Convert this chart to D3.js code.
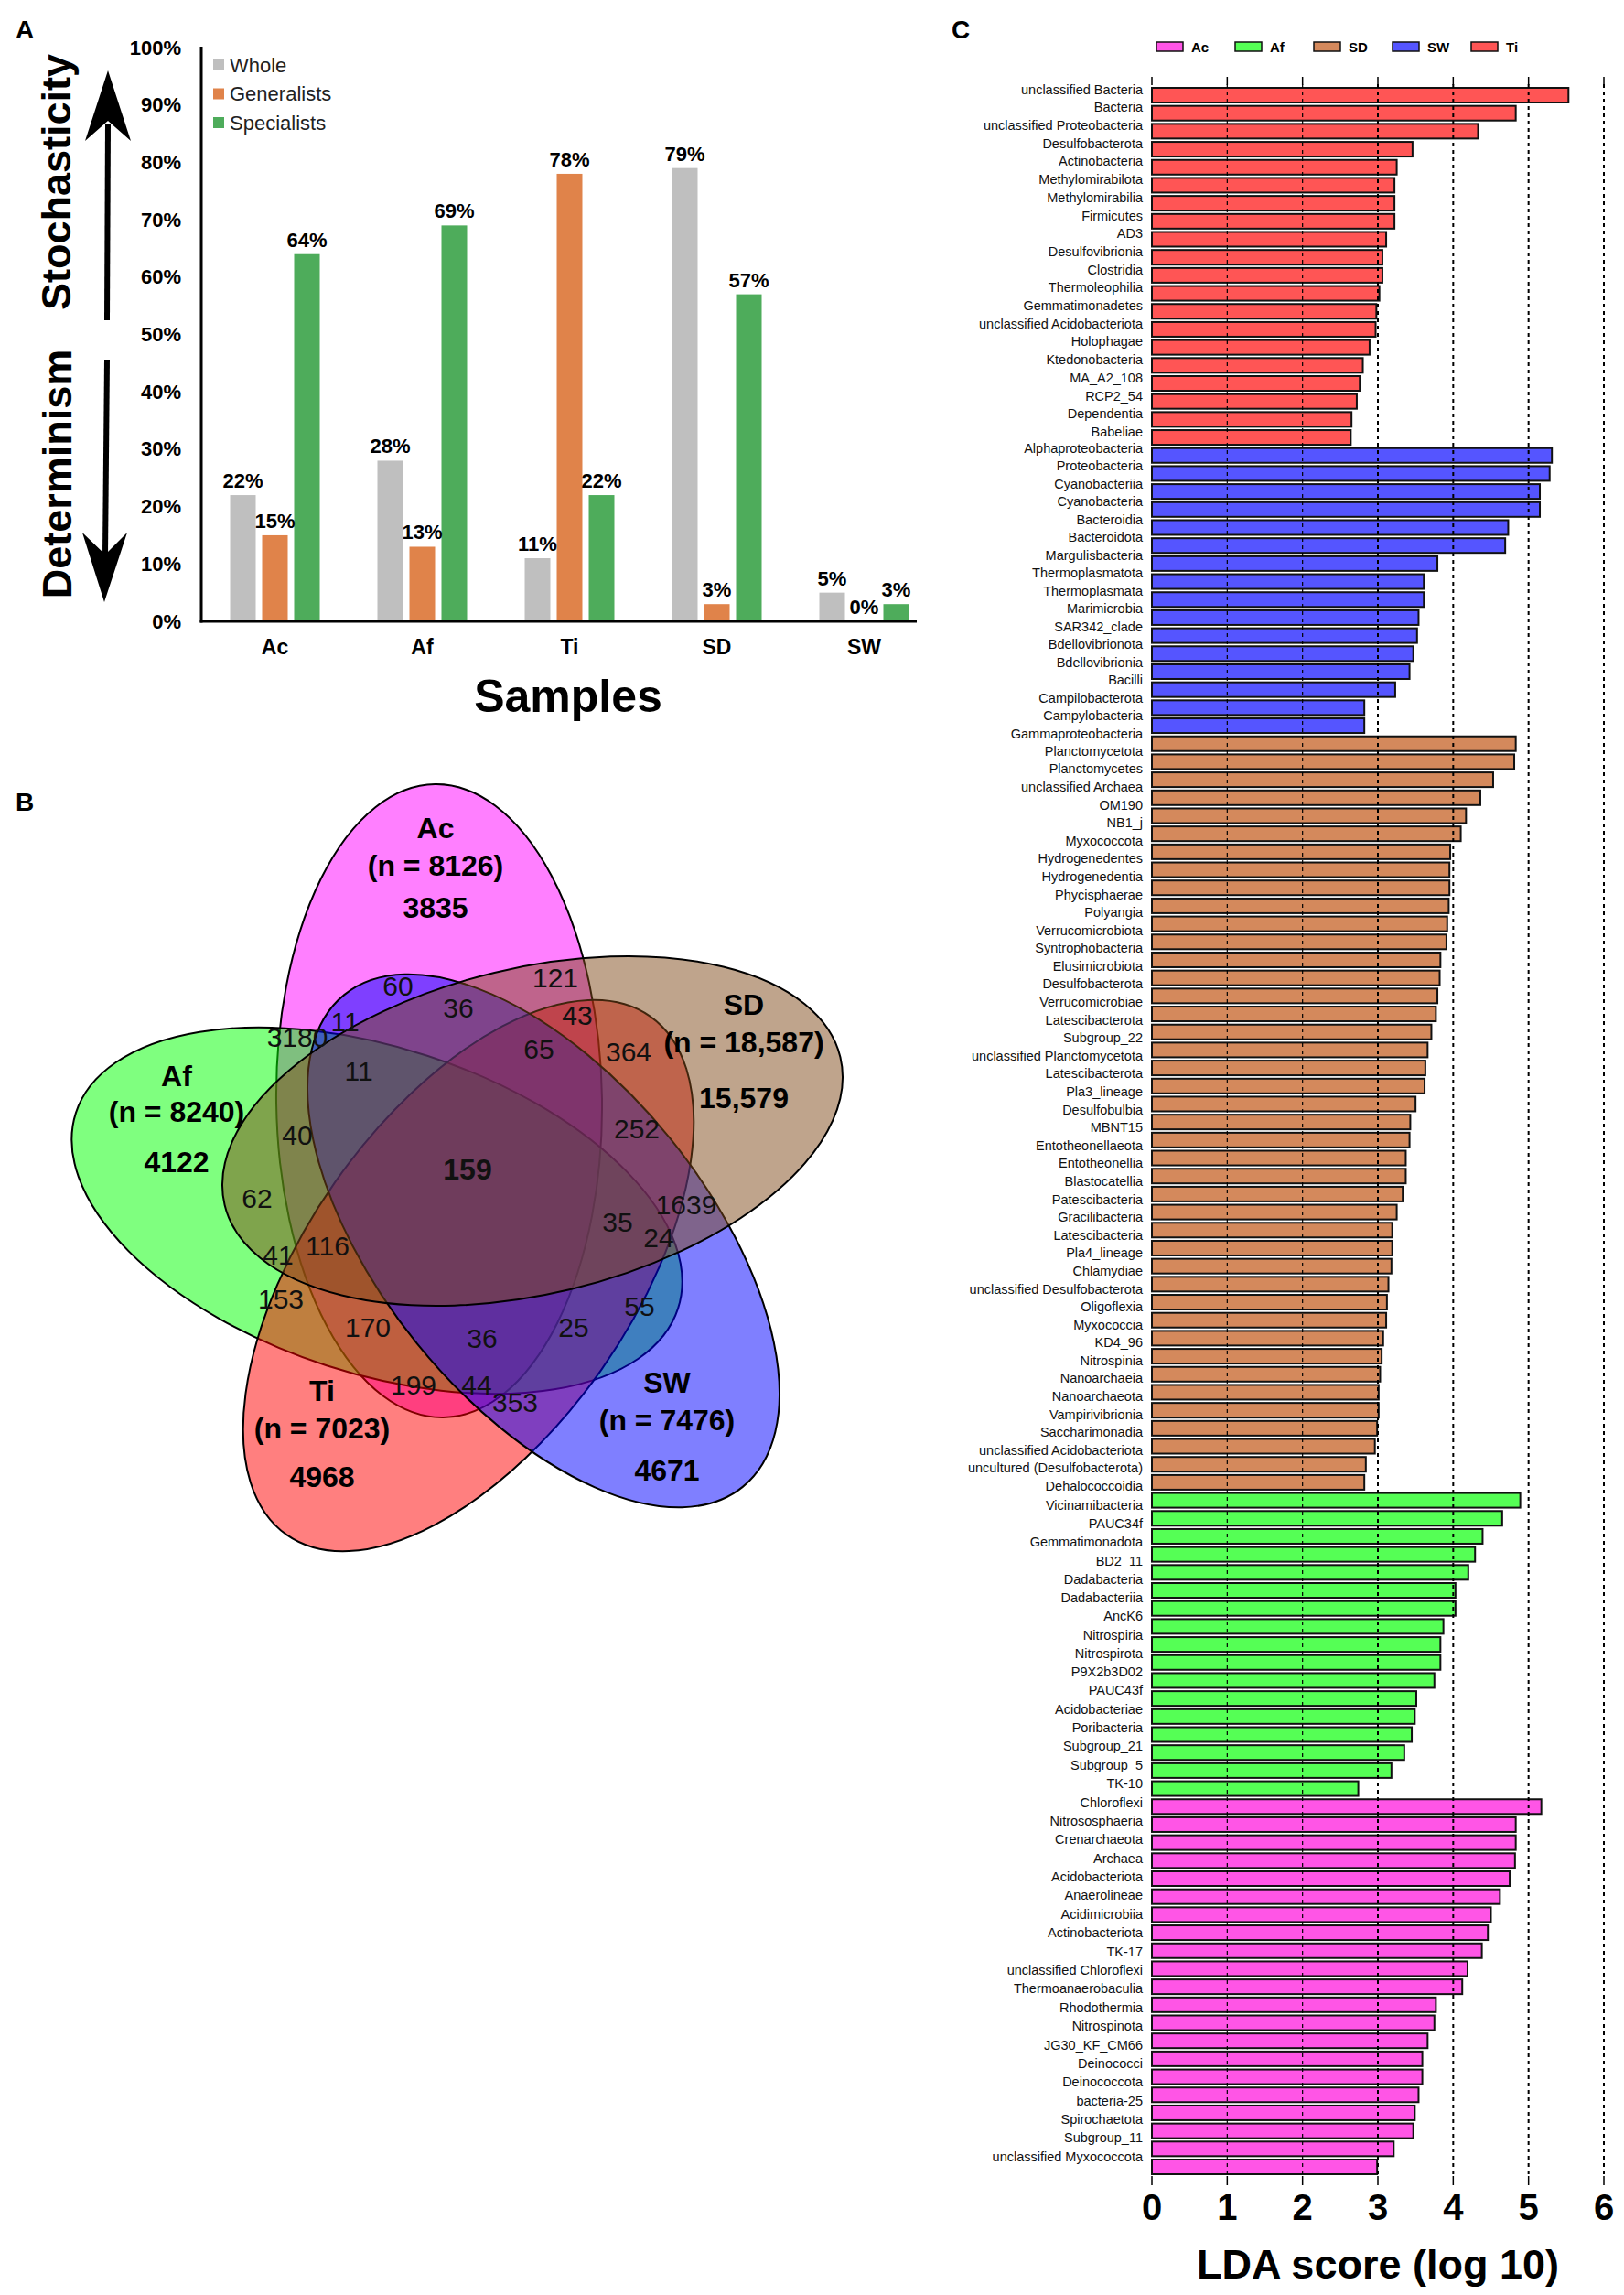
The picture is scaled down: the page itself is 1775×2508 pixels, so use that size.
<!DOCTYPE html>
<html>
<head>
<meta charset="utf-8">
<script src="https://cdn.jsdelivr.net/npm/d3@7"></script>
<style>
  body { margin: 0; background: #fff; }
  svg { font-family: "Liberation Sans", Arial, sans-serif; }
</style>
</head>
<body>
<script>
// ---------- A: stochasticity bars
const samples = ["Ac", "Af", "Ti", "SD", "SW"];
const series = ["Whole", "Generalists", "Specialists"];
const whole = [22, 28, 11, 79, 5];
const generalists = [15, 13, 78, 3, 0];
const specialists = [64, 69, 22, 57, 3];
const pctTicks = [0, 10, 20, 30, 40, 50, 60, 70, 80, 90, 100];

// ---------- B: venn counts
const setNames = ["Ac", "Af", "Ti", "SW", "SD"];
const setTotals = [8126, 8240, 7023, 7476, 18587];
const setUnique = [3835, 4122, 4968, 4671, 15579];
const sharedCounts = [60, 121, 36, 43, 3180, 11, 65, 364, 11, 40, 252, 159, 62, 1639,
                      35, 24, 116, 41, 153, 55, 170, 36, 25, 199, 44, 353];

// ---------- C: LDA scores
const legendGroups = ["Ac", "Af", "SD", "SW", "Ti"];
const tiTaxa = ["unclassified Bacteria", "Bacteria", "unclassified Proteobacteria", "Desulfobacterota",
  "Actinobacteria", "Methylomirabilota", "Methylomirabilia", "Firmicutes", "AD3", "Desulfovibrionia",
  "Clostridia", "Thermoleophilia", "Gemmatimonadetes", "unclassified Acidobacteriota", "Holophagae",
  "Ktedonobacteria", "MA_A2_108", "RCP2_54", "Dependentia", "Babeliae"];
const swTaxa = ["Alphaproteobacteria", "Proteobacteria", "Cyanobacteriia", "Cyanobacteria", "Bacteroidia",
  "Bacteroidota", "Margulisbacteria", "Thermoplasmatota", "Thermoplasmata", "Marimicrobia", "SAR342_clade",
  "Bdellovibrionota", "Bdellovibrionia", "Bacilli", "Campilobacterota", "Campylobacteria", "Gammaproteobacteria"];
const sdTaxa = ["Planctomycetota", "Planctomycetes", "unclassified Archaea", "OM190", "NB1_j", "Myxococcota",
  "Hydrogenedentes", "Hydrogenedentia", "Phycisphaerae", "Polyangia", "Verrucomicrobiota", "Syntrophobacteria",
  "Elusimicrobiota", "Desulfobacterota", "Verrucomicrobiae", "Latescibacterota", "Subgroup_22",
  "unclassified Planctomycetota", "Latescibacterota", "Pla3_lineage", "Desulfobulbia", "MBNT15",
  "Entotheonellaeota", "Entotheonellia", "Blastocatellia", "Patescibacteria", "Gracilibacteria",
  "Latescibacteria", "Pla4_lineage", "Chlamydiae", "unclassified Desulfobacterota", "Oligoflexia",
  "Myxococcia", "KD4_96", "Nitrospinia", "Nanoarchaeia", "Nanoarchaeota", "Vampirivibrionia",
  "Saccharimonadia", "unclassified Acidobacteriota", "uncultured (Desulfobacterota)", "Dehalococcoidia"];
const afTaxa = ["Vicinamibacteria", "PAUC34f", "Gemmatimonadota", "BD2_11", "Dadabacteria", "Dadabacteriia",
  "AncK6", "Nitrospiria", "Nitrospirota", "P9X2b3D02", "PAUC43f", "Acidobacteriae", "Poribacteria",
  "Subgroup_21", "Subgroup_5", "TK-10"];
const acTaxa = ["Chloroflexi", "Nitrososphaeria", "Crenarchaeota", "Archaea", "Acidobacteriota", "Anaerolineae",
  "Acidimicrobiia", "Actinobacteriota", "TK-17", "unclassified Chloroflexi", "Thermoanaerobaculia",
  "Rhodothermia", "Nitrospinota", "JG30_KF_CM66", "Deinococci", "Deinococcota", "bacteria-25",
  "Spirochaetota", "Subgroup_11", "unclassified Myxococcota"];

const tiLda = [5.53, 4.83, 4.33, 3.46, 3.25, 3.22, 3.22, 3.22, 3.11, 3.06, 3.06, 3.02, 2.98, 2.97, 2.89,
  2.80, 2.76, 2.72, 2.65, 2.64];
const swLda = [5.31, 5.28, 5.15, 5.15, 4.73, 4.69, 3.79, 3.61, 3.61, 3.54, 3.52, 3.47, 3.42, 3.23, 2.82, 2.82];
const sdLda = [4.83, 4.81, 4.53, 4.36, 4.17, 4.10, 3.96, 3.95, 3.95, 3.94, 3.92, 3.91, 3.83, 3.82, 3.79,
  3.77, 3.71, 3.66, 3.63, 3.62, 3.50, 3.43, 3.42, 3.37, 3.37, 3.33, 3.25, 3.19, 3.19, 3.18, 3.14, 3.12,
  3.11, 3.07, 3.05, 3.03, 3.01, 3.01, 2.99, 2.96, 2.84, 2.82];
const afLda = [4.89, 4.65, 4.39, 4.29, 4.20, 4.03, 4.03, 3.87, 3.83, 3.83, 3.75, 3.51, 3.49, 3.45, 3.35,
  3.18, 2.74];
const acLda = [5.17, 4.83, 4.83, 4.82, 4.75, 4.62, 4.50, 4.46, 4.38, 4.19, 4.12, 3.77, 3.75, 3.66, 3.59,
  3.59, 3.54, 3.49, 3.47, 3.21, 2.99];
const ldaTicks = [0, 1, 2, 3, 4, 5, 6];

// ---------------------------------------------------------------
const W = 1775, H = 2508;
const svg = d3.select("body").append("svg")
  .attr("width", W).attr("height", H)
  .attr("viewBox", `0 0 ${W} ${H}`);
svg.append("rect").attr("width", W).attr("height", H).attr("fill", "#fff");

const panelLabel = (t, x, y) => svg.append("text").attr("x", x).attr("y", y)
  .attr("font-size", 28).attr("font-weight", "bold").text(t);

// ================= panel A =================
panelLabel("A", 17, 42);

const seriesColor = {Whole: "#bfbfbf", Generalists: "#e0834a", Specialists: "#4eac5b"};
const seriesValues = {Whole: whole, Generalists: generalists, Specialists: specialists};

const x0 = d3.scaleBand().domain(samples).range([220, 1025]);
const x1 = d3.scaleBand().domain(series)
  .range([x0.bandwidth() / 2 - 52.5, x0.bandwidth() / 2 + 52.5])
  .paddingInner(0.2).paddingOuter(0.1);
const yA = d3.scaleLinear().domain([0, 100]).range([679, 52]);

const gA = svg.append("g");

gA.selectAll(".ytick").data(pctTicks).enter().append("text")
  .attr("x", 198).attr("y", d => yA(d))
  .attr("text-anchor", "end").attr("dominant-baseline", "central")
  .attr("font-size", 22).attr("font-weight", "bold")
  .text(d => d + "%");

const groupsA = gA.selectAll(".grp").data(samples).enter().append("g")
  .attr("transform", d => `translate(${x0(d)},0)`);

groupsA.selectAll("rect")
  .data((s, i) => series.map(k => ({k, v: seriesValues[k][i]})))
  .enter().append("rect")
    .attr("x", d => x1(d.k))
    .attr("width", x1.bandwidth())
    .attr("y", d => yA(d.v))
    .attr("height", d => yA(0) - yA(d.v))
    .attr("fill", d => seriesColor[d.k]);

groupsA.selectAll(".val")
  .data((s, i) => series.map(k => ({k, v: seriesValues[k][i]})))
  .enter().append("text")
    .attr("x", d => x1(d.k) + x1.bandwidth() / 2)
    .attr("y", d => yA(d.v) - 8)
    .attr("text-anchor", "middle")
    .attr("font-size", 22).attr("font-weight", "bold")
    .text(d => d.v + "%");

gA.selectAll(".xlab").data(samples).enter().append("text")
  .attr("x", d => x0(d) + x0.bandwidth() / 2).attr("y", 715)
  .attr("text-anchor", "middle").attr("font-size", 23).attr("font-weight", "bold")
  .text(d => d);

// axes lines
gA.append("line").attr("x1", 220).attr("x2", 220).attr("y1", yA(100) - 1).attr("y2", yA(0) + 1.5)
  .attr("stroke", "#000").attr("stroke-width", 3);
gA.append("line").attr("x1", 218.5).attr("x2", 1002).attr("y1", yA(0)).attr("y2", yA(0))
  .attr("stroke", "#000").attr("stroke-width", 3);

gA.append("text").attr("x", 621).attr("y", 778).attr("text-anchor", "middle")
  .attr("font-size", 50).attr("font-weight", "bold").text("Samples");

// legend
const legA = gA.selectAll(".leg").data(series).enter().append("g")
  .attr("transform", (d, i) => `translate(233,${71 + i * 31.5})`);
legA.append("rect").attr("x", 0).attr("y", -6).attr("width", 12).attr("height", 12)
  .attr("fill", d => seriesColor[d]);
legA.append("text").attr("x", 18).attr("y", 0).attr("dominant-baseline", "central")
  .attr("font-size", 22).attr("fill", "#222").text(d => d);

// side labels with arrows
gA.append("text").attr("transform", "translate(77,199) rotate(-90)")
  .attr("text-anchor", "middle").attr("font-size", 45).attr("font-weight", "bold")
  .text("Stochasticity");
gA.append("text").attr("transform", "translate(78,518) rotate(-90)")
  .attr("text-anchor", "middle").attr("font-size", 45).attr("font-weight", "bold")
  .text("Determinism");
gA.append("line").attr("x1", 117).attr("x2", 118).attr("y1", 350).attr("y2", 135)
  .attr("stroke", "#000").attr("stroke-width", 6);
gA.append("path").attr("d", "M118,77 L143,154 L118,132 L93,154 Z").attr("fill", "#000");
gA.append("line").attr("x1", 117).attr("x2", 115).attr("y1", 393).attr("y2", 606)
  .attr("stroke", "#000").attr("stroke-width", 6);
gA.append("path").attr("d", "M114,658 L139,582 L115,606 L90,582 Z").attr("fill", "#000");

// ================= panel B =================
panelLabel("B", 17, 886);

const vennColors = {Ac: "#ff00ff", Af: "#00ff00", Ti: "#ff0000", SW: "#0000ff", SD: "#7f4919"};
// ellipse geometry per set: centre, long-axis angle (deg)
const ellipseGeom = {
  Ac: {cx: 480, cy: 1203, angle: 89.25},
  Af: {cx: 412, cy: 1323, angle: 18},
  Ti: {cx: 512, cy: 1394, angle: -55},
  SW: {cx: 594, cy: 1356, angle: 51},
  SD: {cx: 582, cy: 1236, angle: -13.5}
};
const ellA = 346, ellB = 178;

const gB = svg.append("g");
setNames.forEach(name => {
  const e = ellipseGeom[name];
  gB.append("ellipse")
    .attr("cx", e.cx).attr("cy", e.cy)
    .attr("rx", ellA).attr("ry", ellB)
    .attr("transform", `rotate(${e.angle},${e.cx},${e.cy})`)
    .attr("fill", vennColors[name]).attr("fill-opacity", 0.5)
    .attr("stroke", "#000").attr("stroke-width", 2);
});

// layout of the set captions (name / total / unique), one per set
const setLabelPos = [[476, 905], [193, 1176], [352, 1520], [729, 1511], [813, 1098]];
const setLabelGap = [[41, 87], [39, 94], [41, 94], [41, 96], [41, 102]];
const fmtN = n => n >= 10000 ? d3.format(",")(n) : String(n);
setNames.forEach((name, i) => {
  const [px, py] = setLabelPos[i];
  const [g1, g2] = setLabelGap[i];
  const lines = [[name, 0], [`(n = ${fmtN(setTotals[i])})`, g1], [fmtN(setUnique[i]), g2]];
  lines.forEach(([t, dy]) => gB.append("text").attr("x", px).attr("y", py + dy)
    .attr("text-anchor", "middle").attr("dominant-baseline", "central")
    .attr("font-size", 32).attr("font-weight", "bold").text(t));
});

// positions for the shared-region counts (same order as sharedCounts)
const sharedPos = [[435, 1077], [607, 1068], [501, 1101], [631, 1109], [325, 1133], [377, 1116],
  [589, 1146], [687, 1149], [392, 1170], [325, 1240], [696, 1233], [511, 1278], [281, 1309],
  [750, 1316], [675, 1335], [720, 1352], [358, 1361], [304, 1371], [307, 1419], [699, 1427],
  [402, 1450], [527, 1462], [627, 1450], [452, 1513], [521, 1513], [563, 1532]];
gB.selectAll(".cnt").data(sharedCounts).enter().append("text")
  .attr("x", (d, i) => sharedPos[i][0]).attr("y", (d, i) => sharedPos[i][1])
  .attr("text-anchor", "middle").attr("dominant-baseline", "central")
  .attr("font-size", (d, i) => i === 11 ? 32 : 30)
  .attr("font-weight", (d, i) => i === 11 ? "bold" : "normal")
  .attr("fill", "#111")
  .text(d => d);

// ================= panel C =================
panelLabel("C", 1040, 42);

const groupColor = {Ac: "#ff55e6", Af: "#55ff55", SD: "#d4895c", SW: "#5555ff", Ti: "#ff5555"};
const bars = [].concat(
  tiLda.map(v => ({g: "Ti", v})),
  swLda.map(v => ({g: "SW", v})),
  sdLda.map(v => ({g: "SD", v})),
  afLda.map(v => ({g: "Af", v})),
  acLda.map(v => ({g: "Ac", v})));

const xC = d3.scaleLinear().domain([0, 6]).range([1259, 1753]);
const yC = d3.scaleBand().domain(d3.range(bars.length)).range([96, 2376]).paddingInner(0.187);

const gC = svg.append("g");

gC.selectAll(".bar").data(bars).enter().append("rect")
  .attr("x", xC(0)).attr("y", (d, i) => yC(i))
  .attr("width", d => xC(d.v) - xC(0)).attr("height", yC.bandwidth())
  .attr("fill", d => groupColor[d.g])
  .attr("stroke", "#111").attr("stroke-width", 2);

// dashed grid lines over the bars
gC.selectAll(".grid").data(ldaTicks.slice(1)).enter().append("line")
  .attr("x1", d => xC(d)).attr("x2", d => xC(d))
  .attr("y1", 92).attr("y2", 2380)
  .attr("stroke", "#000").attr("stroke-width", d => d < 3 ? 1.2 : 2)
  .attr("stroke-dasharray", "4,4");

// ticks at top and bottom
gC.selectAll(".ttick").data(ldaTicks).enter().append("line")
  .attr("x1", d => xC(d)).attr("x2", d => xC(d)).attr("y1", 84).attr("y2", 93)
  .attr("stroke", "#000").attr("stroke-width", 1.5);
gC.selectAll(".btick").data(ldaTicks).enter().append("line")
  .attr("x1", d => xC(d)).attr("x2", d => xC(d)).attr("y1", 2378).attr("y2", 2388)
  .attr("stroke", "#000").attr("stroke-width", 1.5);

gC.selectAll(".tlab").data(ldaTicks).enter().append("text")
  .attr("x", d => xC(d)).attr("y", 2426)
  .attr("text-anchor", "middle").attr("font-size", 40).attr("font-weight", "bold")
  .text(d => d);

gC.append("text").attr("x", (xC(0) + xC(6)) / 2).attr("y", 2490)
  .attr("text-anchor", "middle").attr("font-size", 45).attr("font-weight", "bold")
  .text("LDA score (log 10)");

// taxon names: each block of names is spread over its own vertical span
const taxaBlocks = [
  {names: tiTaxa, span: [97.6, 472]},
  {names: swTaxa, span: [489.6, 801.6]},
  {names: sdTaxa, span: [820.8, 1624]},
  {names: afTaxa, span: [1644.8, 1948.8]},
  {names: acTaxa, span: [1969.6, 2356.8]}
];
taxaBlocks.forEach(b => {
  const yL = d3.scalePoint().domain(d3.range(b.names.length)).range(b.span);
  gC.append("g").selectAll("text").data(b.names).enter().append("text")
    .attr("x", 1249).attr("y", (d, i) => yL(i))
    .attr("text-anchor", "end").attr("dominant-baseline", "central")
    .attr("font-size", 14.5).attr("fill", "#111")
    .text(d => d);
});

// legend
const legC = gC.selectAll(".legc").data(legendGroups).enter().append("g")
  .attr("transform", (d, i) => `translate(${1264 + i * 86},51)`);
legC.append("rect").attr("x", 0).attr("y", -5).attr("width", 29).attr("height", 10)
  .attr("fill", d => groupColor[d]).attr("stroke", "#111").attr("stroke-width", 1.5);
legC.append("text").attr("x", 38).attr("y", 0).attr("dominant-baseline", "central")
  .attr("font-size", 15).attr("font-weight", "bold").text(d => d);
</script>
</body>
</html>
